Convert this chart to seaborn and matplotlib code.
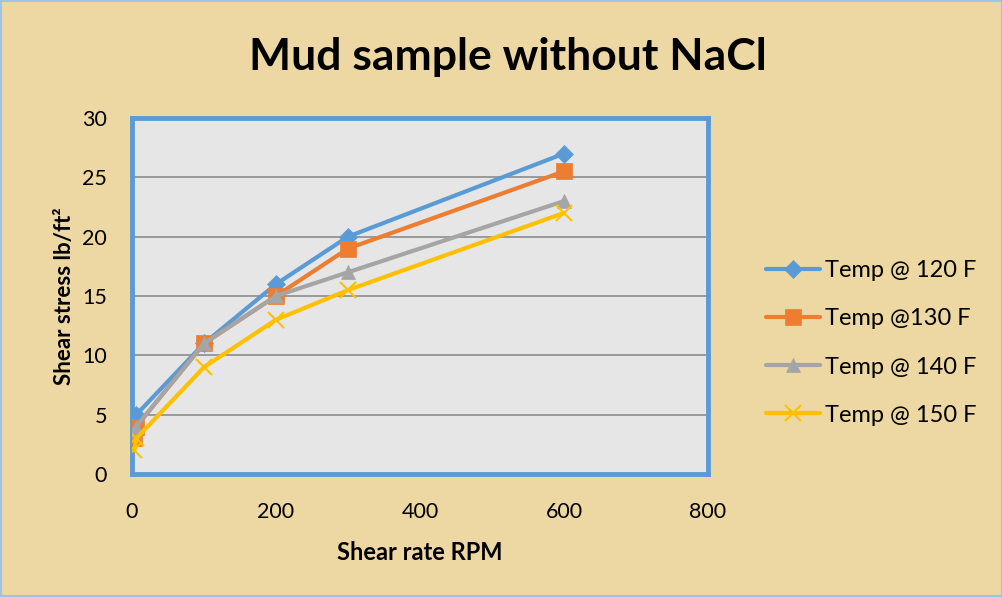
import numpy as np
import pandas as pd
import matplotlib
matplotlib.use("Agg")
import matplotlib.pyplot as plt
from matplotlib.patches import Rectangle
import seaborn as sns

# ---- data ----
shear_rate = [3, 6, 100, 200, 300, 600]
temp_120 = [4.5, 5, 11, 16, 20, 27]
temp_130 = [3, 4, 11, 15, 19, 25.5]
temp_140 = [3.5, 4, 11, 15, 17, 23]
temp_150 = [2, 3, 9, 13, 15.5, 22]
series_names = ["Temp @ 120 F", "Temp @130 F", "Temp @ 140 F", "Temp @ 150 F"]
x_ticks = [0, 200, 400, 600, 800]
y_ticks = [0, 5, 10, 15, 20, 25, 30]

sns.set_style("white")
plt.rcParams["font.family"] = ["Lato", "DejaVu Sans"]
plt.rcParams["text.color"] = "black"
plt.rcParams["axes.labelcolor"] = "black"

bg = "#EDD7A2"
fig = plt.figure(figsize=(10.03, 5.97), dpi=100, facecolor=bg)
fig.patches.append(Rectangle((0.001, 0.001), 0.998, 0.997, transform=fig.transFigure,
                             fill=False, edgecolor="#9DC3E6", linewidth=1.5))

ax = fig.add_axes([132 / 1003, 1 - 474 / 597, (708 - 132) / 1003, (474 - 118) / 597])
ax.set_facecolor("#E6E6E6")

colors = ["#5B9BD5", "#ED7D31", "#A5A5A5", "#FFC000"]
markers = ["D", "s", "^", "x"]
msizes = [9, 11, 10, 11]
values = [temp_120, temp_130, temp_140, temp_150]

for name, vals, c, m, ms in zip(series_names, values, colors, markers, msizes):
    df = pd.DataFrame({"x": shear_rate, "y": vals})
    sns.lineplot(data=df, x="x", y="y", ax=ax, color=c, linewidth=3.0, marker=m,
                 markersize=ms, markeredgecolor=c, markeredgewidth=1.5 if m == "x" else 0.5,
                 label=name, zorder=3, legend=False)

ax.set_xlim(0, 800)
ax.set_ylim(0, 30)
ax.set_xticks(x_ticks)
ax.set_yticks(y_ticks)
ax.yaxis.grid(True, color="#8C8C8C", linewidth=1.2)
ax.xaxis.grid(False)
ax.set_axisbelow(True)
ax.axhline(0, color="#8C8C8C", linewidth=2.5, zorder=2)
for s in ax.spines.values():
    s.set_color("#5B9BD5")
    s.set_linewidth(3.5)
ax.tick_params(axis="both", length=0, labelsize=15.5, colors="black")
ax.tick_params(axis="x", pad=20)
ax.tick_params(axis="y", pad=18)

ax.set_xlabel("Shear rate RPM", fontsize=17, fontweight="bold", labelpad=14)
ax.set_ylabel("Shear stress lb/ft²", fontsize=16, fontweight="bold", labelpad=5)

fig.text(508 / 1003, 1 - 57 / 597, "Mud sample without NaCl", ha="center", va="center",
         fontsize=32, fontweight="bold")

handles = ax.get_lines()[:len(series_names)]
fig.legend(handles, series_names, loc="center left",
           bbox_to_anchor=(766 / 1003, 1 - 343 / 597), frameon=False,
           fontsize=17, handlelength=2.3, handletextpad=0.2, labelspacing=1.15,
           borderpad=0, borderaxespad=0)

fig.savefig("out.png", dpi=100, facecolor=bg)
